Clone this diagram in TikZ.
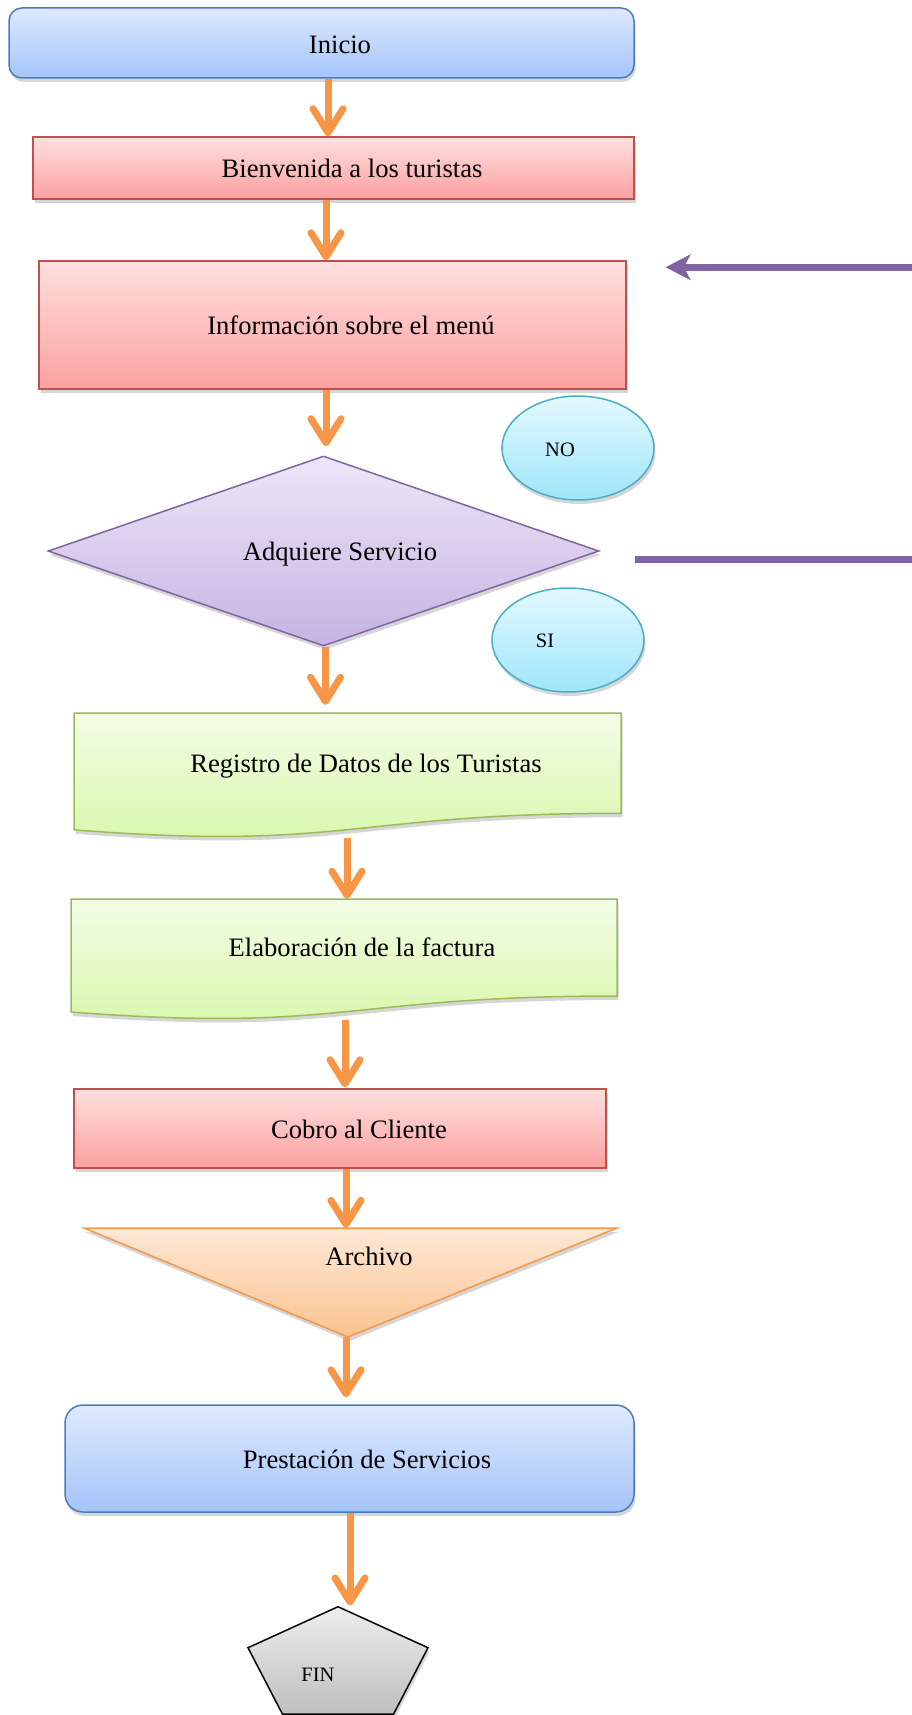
\documentclass[tikz,border=0pt]{standalone}
\usepackage{fontspec}
\setmainfont{Liberation Serif}
\usetikzlibrary{arrows.meta,shapes.geometric,shadows,calc}
\definecolor{blueB}{HTML}{4A7EBB}\definecolor{blueT}{HTML}{DFE9FD}\definecolor{blueD}{HTML}{A4C4FA}
\definecolor{redB}{HTML}{C0504D}\definecolor{redT}{HTML}{FFDFDF}\definecolor{redD}{HTML}{FCA0A0}
\definecolor{purB}{HTML}{8064A2}\definecolor{purT}{HTML}{EDE6F7}\definecolor{purD}{HTML}{C6B3E2}
\definecolor{cyaB}{HTML}{4BACC6}\definecolor{cyaT}{HTML}{E3F8FE}\definecolor{cyaD}{HTML}{A0E6FA}
\definecolor{greB}{HTML}{9BBB59}\definecolor{greT}{HTML}{F3FCE6}\definecolor{greD}{HTML}{D7F7A8}
\definecolor{oraB}{HTML}{F79646}\definecolor{oraT}{HTML}{FEE8D6}\definecolor{oraD}{HTML}{FBC390}
\definecolor{greyT}{HTML}{EDEDED}\definecolor{greyD}{HTML}{BFBFBF}
\begin{document}
\begin{tikzpicture}[x=1pt,y=-1pt,
  shad/.style={drop shadow={opacity=0.32,shadow xshift=1.5pt,shadow yshift=-4pt}},
  shp/.style={line width=1.5pt,inner sep=0pt,shad},
  bluebox/.style={shp,draw=blueB,top color=blueT,bottom color=blueD},
  redbox/.style={shp,draw=redB,top color=redT,bottom color=redD},
  decision/.style={shp,diamond,draw=purB,top color=purT,bottom color=purD},
  answer/.style={shp,ellipse,draw=cyaB,top color=cyaT,bottom color=cyaD},
  docbox/.style={shp,draw=greB,top color=greT,bottom color=greD},
  filebox/.style={shp,draw=oraB,top color=oraT,bottom color=oraD},
  endbox/.style={line width=1.5pt,draw=black,top color=greyT,bottom color=greyD,shad},
  frame/.style={inner sep=0pt,draw=none},
  txt/.style={font=\fontsize{26.6pt}{30pt}\selectfont,inner sep=0pt,text height=17.6pt,text depth=0pt},
  stxt/.style={font=\fontsize{20.5pt}{24pt}\selectfont,inner sep=0pt,text height=13.6pt,text depth=0pt},
  oarr/.style={draw=oraB,line width=7pt,-{Straight Barb[length=24pt,width=30pt,round]}},
  parr/.style={draw=purB,line width=7pt,-{Stealth[length=25pt,width=26pt,inset=7pt,line width=0.5pt]}},
]
\useasboundingbox (0,0) rectangle (912,1715);

% shapes
\node[bluebox,rounded corners=13pt,minimum width=625pt,minimum height=70pt] (ini) at (321.5,43) {};
\node[redbox,minimum width=601pt,minimum height=62pt] (bien) at (333.5,168) {};
\node[redbox,minimum width=587pt,minimum height=128pt] (info) at (332.5,325) {};
\node[decision,minimum width=551pt,minimum height=190pt] (dia) at (323.5,551) {};
\node[answer,minimum width=152pt,minimum height=104pt] (no) at (578,448) {};
\node[answer,minimum width=152pt,minimum height=104pt] (si) at (568,640) {};

\node[frame,minimum width=547pt,minimum height=125pt] (reg) at (347.5,775.5) {};
\draw[docbox] (74,713) -- (621,713) -- (621,813.3) .. controls (347.5,813.3) and (347.5,851.4) .. (74,829.8) -- cycle;
\node[frame,minimum width=546pt,minimum height=121pt] (elab) at (344,959.5) {};
\draw[docbox] (71,899) -- (617,899) -- (617,996) .. controls (344,996) and (344,1033) .. (71,1012) -- cycle;

\node[redbox,minimum width=532pt,minimum height=79pt] (cobro) at (340,1128.5) {};

\node[frame,minimum width=533pt,minimum height=109pt] (arch) at (350.5,1282.5) {};
\draw[filebox] (84,1228) -- (617,1228) -- (348,1337) -- cycle;

\node[bluebox,rounded corners=18pt,minimum width=569pt,minimum height=107pt] (prest) at (349.5,1458.5) {};

\node[frame,minimum width=189pt,minimum height=107.3pt] (fin) at (338,1660.3) {};
\draw[endbox] (338,1606.7) -- (428,1647.7) -- (393.6,1714) -- (282.4,1714) -- (248,1647.7) -- cycle;

% texts
\node[txt] (tini) at (340,44.5) {Inicio};
\node[txt] (tbien) at (352,169) {Bienvenida a los turistas};
\node[txt] (tinfo) at (351,326) {Información sobre el menú};
\node[txt] (tdia) at (340,551.5) {Adquiere Servicio};
\node[stxt] (tno) at (560,450) {NO};
\node[stxt] (tsi) at (545,641) {SI};
\node[txt] (treg) at (366,764) {Registro de Datos de los Turistas};
\node[txt] (telab) at (362,948) {Elaboración de la factura};
\node[txt] (tcobro) at (359,1129.5) {Cobro al Cliente};
\node[txt] (tarch) at (369,1256.5) {Archivo};
\node[txt] (tprest) at (367,1459.5) {Prestación de Servicios};
\node[stxt] (tfin) at (318,1674.5) {FIN};

% connectors
\draw[oarr] let \p1=(ini.south), \p2=(bien.north) in (\x1+6.5pt,\y1) -- (\x1+6.5pt,\y2);
\draw[oarr] let \p1=(bien.south), \p2=(info.north) in (\x1-7.5pt,\y1) -- (\x1-7.5pt,\y2);
\draw[oarr,shorten >=9pt] let \p1=(info.south), \p2=(dia.north) in (\x1-6.5pt,\y1) -- (\x1-6.5pt,\y2);
\draw[oarr,shorten >=8pt] let \p1=(dia.south), \p2=(reg.north) in (\x1+2pt,\y1) -- (\x1+2pt,\y2);
\draw[oarr] let \p1=(reg.south), \p2=(elab.north) in (\x1-0.5pt,\y1) -- (\x1-0.5pt,\y2);
\draw[oarr,shorten >=1pt] let \p1=(elab.south), \p2=(cobro.north) in (\x1+1pt,\y1) -- (\x1+1pt,\y2);
\draw[oarr] let \p1=(cobro.south), \p2=(arch.north) in (\x1+6pt,\y1) -- (\x1+6pt,\y2);
\draw[oarr,shorten >=7pt] let \p1=(arch.south), \p2=(prest.north) in (\x1-4.5pt,\y1) -- (\x1-4.5pt,\y2);
\draw[oarr,shorten >=1pt] let \p1=(prest.south), \p2=(fin.north) in (\x1+0.5pt,\y1) -- (\x1+0.5pt,\y2);

\draw[parr] let \p1=(dia.east), \p2=(info.north east) in
  (\x1+35pt,\y1-8pt) -- (916pt,\y1-8pt) -- (916pt,\y2-7pt) -- (\x2+39pt,\y2-7pt);
\end{tikzpicture}
\end{document}
